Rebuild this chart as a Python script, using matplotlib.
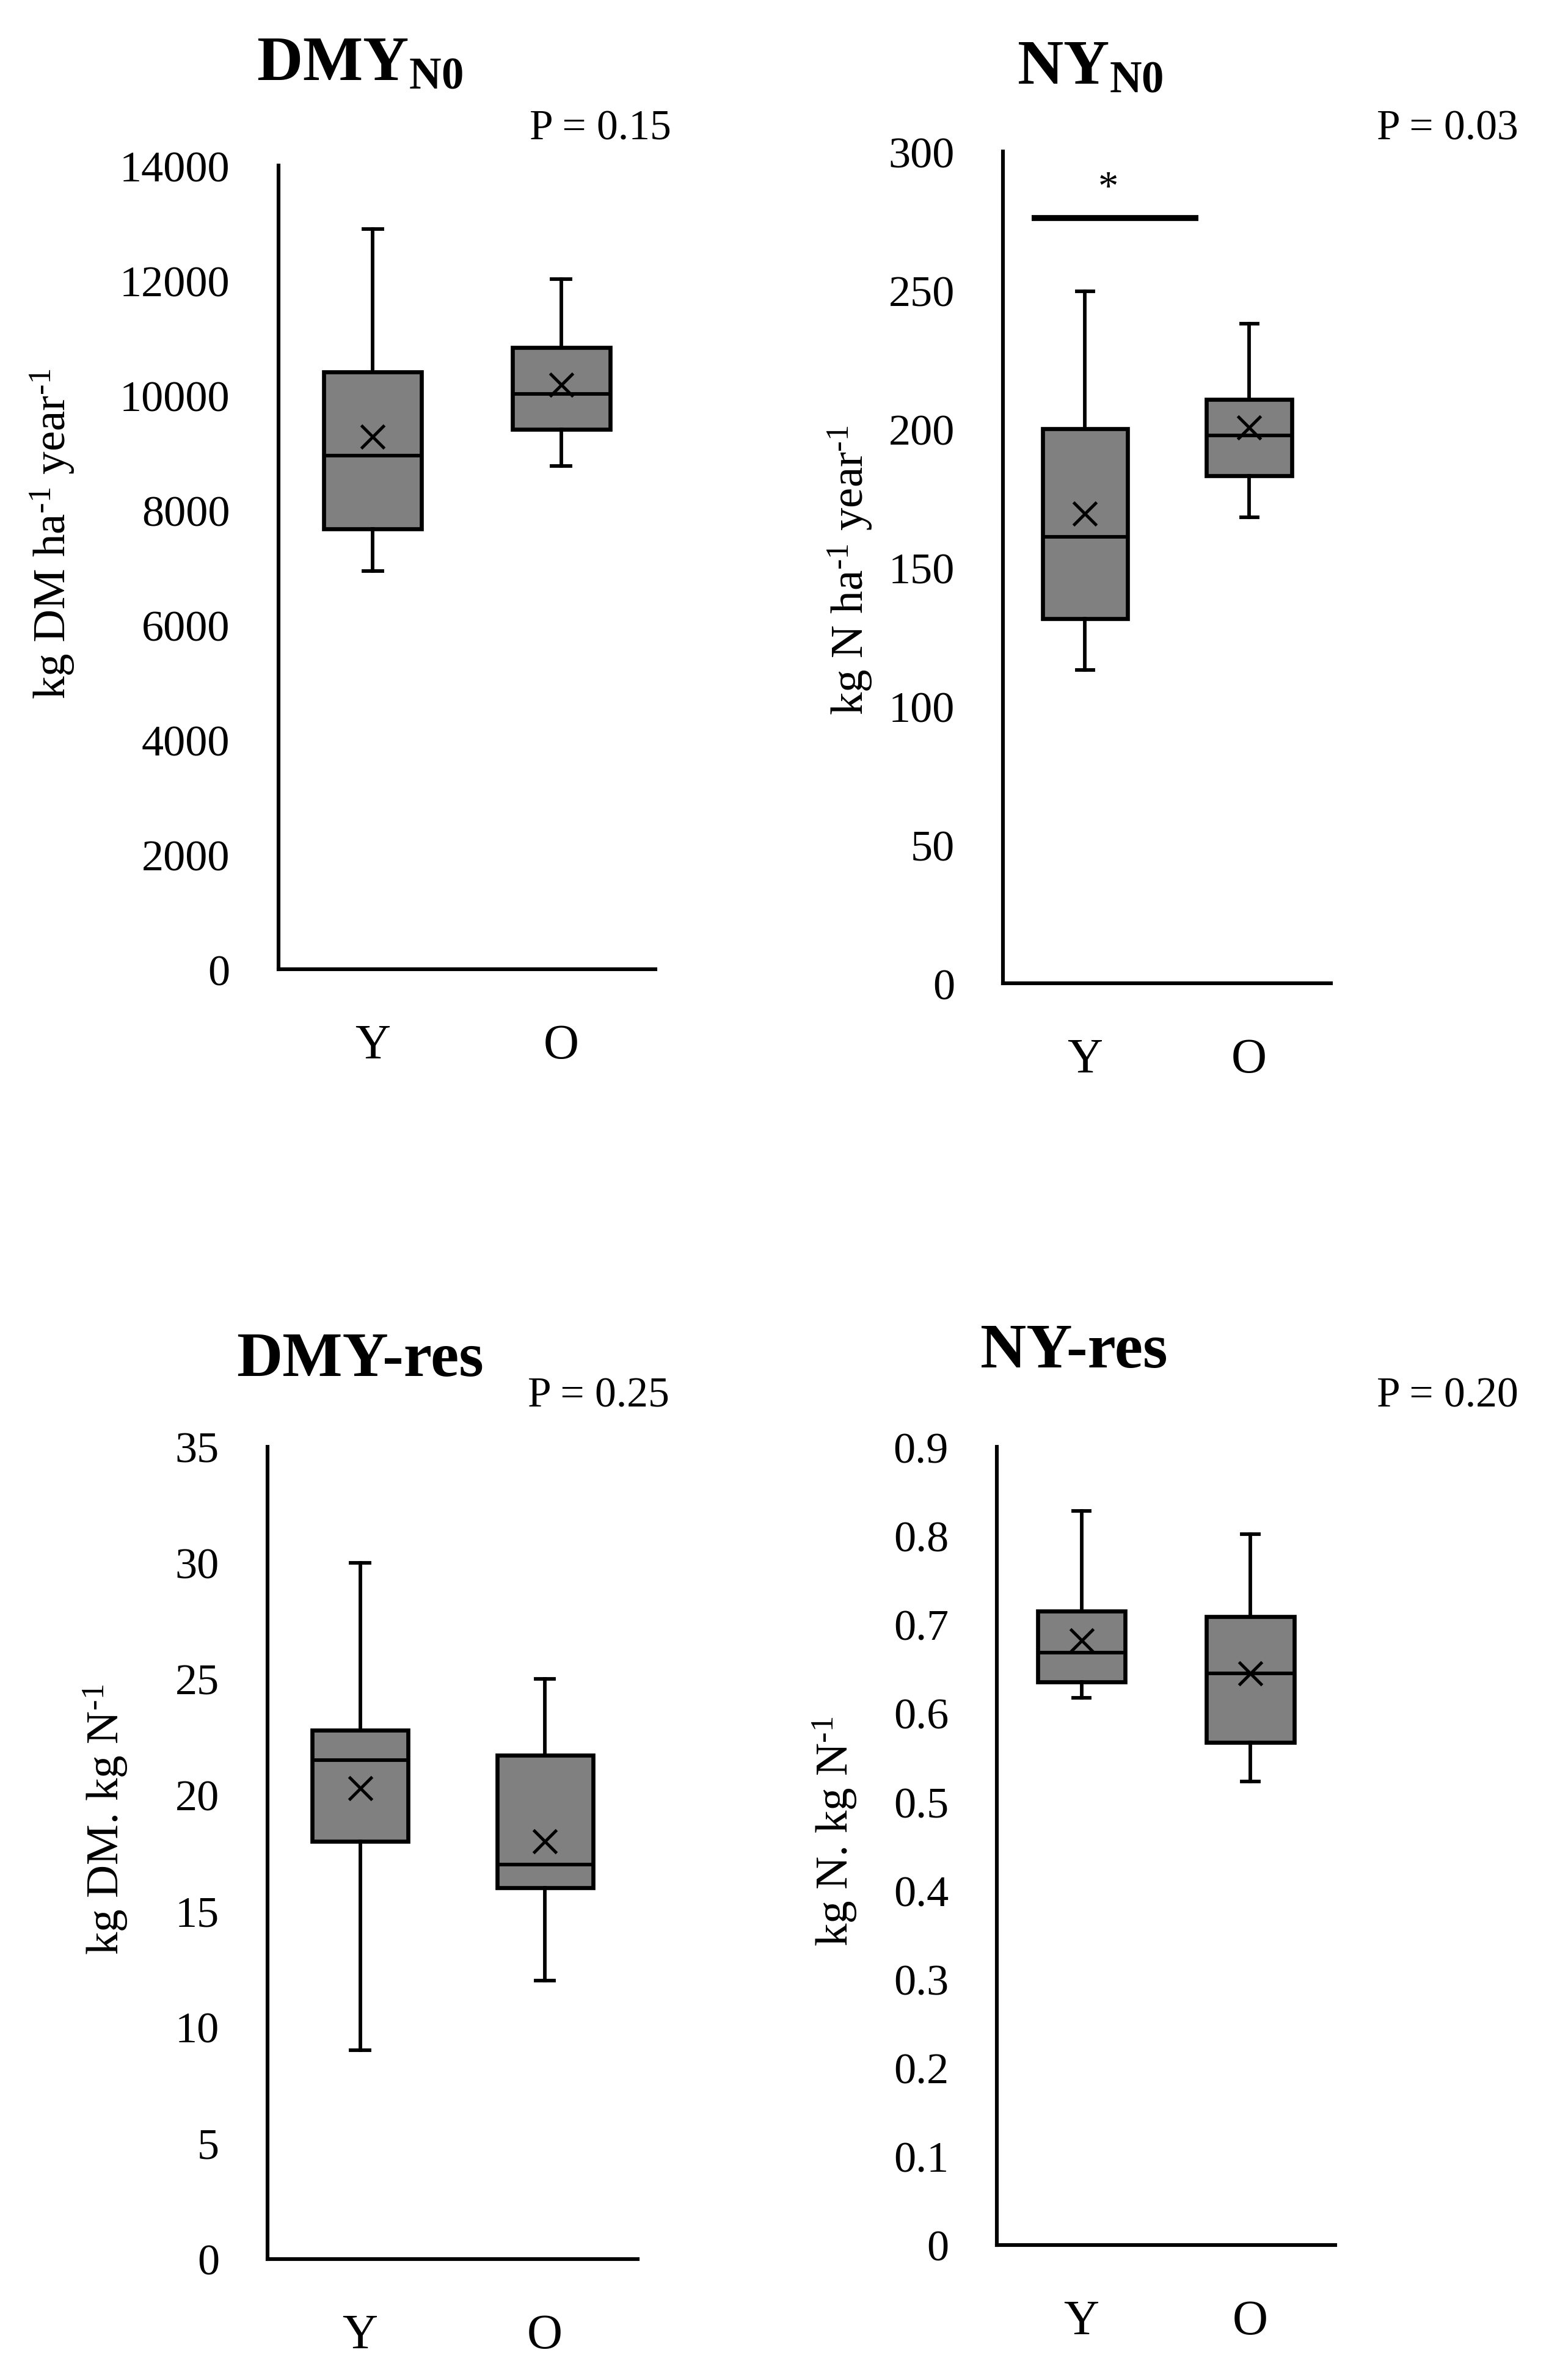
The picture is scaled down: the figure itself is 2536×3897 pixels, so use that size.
import matplotlib
matplotlib.use('Agg')
import matplotlib.pyplot as plt

plt.rcParams['font.family'] = ['Liberation Serif', 'DejaVu Serif']
plt.rcParams['mathtext.fontset'] = 'custom'
plt.rcParams['mathtext.rm'] = 'Liberation Serif'
plt.rcParams['mathtext.bf'] = 'Liberation Serif:bold'
plt.rcParams['mathtext.it'] = 'Liberation Serif:italic'

categories = ['Y', 'O']

# DMY_N0
dmy_whislo = [6940, 8770]
dmy_q1 = [7670, 9410]
dmy_med = [8950, 10030]
dmy_mean = [9280, 10190]
dmy_q3 = [10410, 10830]
dmy_whishi = [12900, 12030]
dmy_ticks = [0, 2000, 4000, 6000, 8000, 10000, 12000, 14000]
dmy_ticklabels = ['0', '2000', '4000', '6000', '8000', '10000', '12000', '14000']

# NY_N0
ny_whislo = [113, 168]
ny_q1 = [131.5, 183]
ny_med = [161, 197.5]
ny_mean = [169.5, 200.5]
ny_q3 = [200, 210.5]
ny_whishi = [249.5, 238]
ny_ticks = [0, 50, 100, 150, 200, 250, 300]
ny_ticklabels = ['0', '50', '100', '150', '200', '250', '300']
sig_x = [0.675, 1.69]
sig_y = 276
star_x = 1.14
star_y = 283

# DMY-res
dmyres_whislo = [9.0, 12.0]
dmyres_q1 = [18.0, 16.0]
dmyres_med = [21.5, 17.0]
dmyres_mean = [20.3, 18.0]
dmyres_q3 = [22.8, 21.7]
dmyres_whishi = [30.0, 25.0]
dmyres_ticks = [0, 5, 10, 15, 20, 25, 30, 35]
dmyres_ticklabels = ['0', '5', '10', '15', '20', '25', '30', '35']

# NY-res
nyres_whislo = [0.617, 0.523]
nyres_q1 = [0.635, 0.567]
nyres_med = [0.668, 0.645]
nyres_mean = [0.682, 0.645]
nyres_q3 = [0.715, 0.709]
nyres_whishi = [0.828, 0.802]
nyres_ticks = [0, 0.1, 0.2, 0.3, 0.4, 0.5, 0.6, 0.7, 0.8, 0.9]
nyres_ticklabels = ['0', '0.1', '0.2', '0.3', '0.4', '0.5', '0.6', '0.7', '0.8', '0.9']

p_labels = ['P = 0.15', 'P = 0.03', 'P = 0.25', 'P = 0.20']
titles = [r'$\mathbf{DMY}_{\mathbf{N0}}$', r'$\mathbf{NY}_{\mathbf{N0}}$', 'DMY-res', 'NY-res']
ylabels = [r'kg DM ha$^{\text{-1}}$ year$^{\text{-1}}$',
           r'kg N ha$^{\text{-1}}$ year$^{\text{-1}}$',
           r'kg DM. kg N$^{\text{-1}}$',
           r'kg N. kg N$^{\text{-1}}$']

fig = plt.figure(figsize=(25.36, 38.98), dpi=100)

axes_rects = [
    [0.1797, 0.5925, 0.2435, 0.3376],
    [0.6475, 0.5867, 0.2119, 0.3494],
    [0.1728, 0.0508, 0.2387, 0.3412],
    [0.6436, 0.0567, 0.2182, 0.3352],
]

panels = [
    (dmy_whislo, dmy_q1, dmy_med, dmy_mean, dmy_q3, dmy_whishi, dmy_ticks, dmy_ticklabels),
    (ny_whislo, ny_q1, ny_med, ny_mean, ny_q3, ny_whishi, ny_ticks, ny_ticklabels),
    (dmyres_whislo, dmyres_q1, dmyres_med, dmyres_mean, dmyres_q3, dmyres_whishi, dmyres_ticks, dmyres_ticklabels),
    (nyres_whislo, nyres_q1, nyres_med, nyres_mean, nyres_q3, nyres_whishi, nyres_ticks, nyres_ticklabels),
]

AX_LW = 4.4
BOX_LW = 4.8
WH_LW = 4.2
axs = []
for rect, (wlo, q1, med, mean, q3, whi, ticks, tlabels) in zip(axes_rects, panels):
    ax = fig.add_axes(rect)
    stats = []
    for i, cat in enumerate(categories):
        stats.append(dict(label=cat, whislo=wlo[i], q1=q1[i], med=med[i], mean=mean[i],
                          q3=q3[i], whishi=whi[i], fliers=[]))
    ax.bxp(stats, positions=[1, 2], widths=0.52, capwidths=0.1, patch_artist=True,
           showmeans=True, showfliers=False,
           boxprops=dict(facecolor='#808080', edgecolor='black', linewidth=BOX_LW),
           medianprops=dict(color='black', linewidth=WH_LW),
           whiskerprops=dict(color='black', linewidth=WH_LW),
           capprops=dict(color='black', linewidth=WH_LW),
           meanprops=dict(marker='x', markeredgecolor='black', markerfacecolor='black',
                          markersize=27, markeredgewidth=3.6))
    ax.set_xlim(0.5, 2.5)
    ax.set_ylim(ticks[0], ticks[-1])
    ax.set_yticks(ticks)
    ax.set_yticklabels(tlabels)
    ax.set_xticks([1, 2])
    ax.set_xticklabels(categories)
    for s in ['top', 'right']:
        ax.spines[s].set_visible(False)
    for s in ['left', 'bottom']:
        ax.spines[s].set_linewidth(AX_LW)
    ax.tick_params(axis='y', length=0, pad=57, labelsize=52)
    ax.tick_params(axis='x', length=0, pad=64, labelsize=58)
    ax.patch.set_visible(False)
    axs.append(ax)

# significance bar on NY_N0
axs[1].plot(sig_x, [sig_y, sig_y], color='black', linewidth=7, solid_capstyle='butt')
axs[1].text(star_x, star_y, '*', ha='center', va='baseline', fontsize=48)

# titles
title_pos = [(0.2324, 0.9663), (0.7037, 0.9648), (0.2324, 0.4219), (0.6934, 0.4257)]
for t, (x, y) in zip(titles, title_pos):
    fig.text(x, y, t, ha='center', va='baseline', fontsize=75, fontweight='bold')

# P values
p_pos = [(0.3418, 0.9414), (0.8887, 0.9414), (0.3408, 0.4091), (0.8887, 0.4091)]
for t, (x, y) in zip(p_labels, p_pos):
    fig.text(x, y, t, ha='left', va='baseline', fontsize=50)

# y labels
yl_pos = [(0.0342, 0.7757), (0.5488, 0.7605), (0.0684, 0.2357), (0.5391, 0.2306)]
for t, (x, y) in zip(ylabels, yl_pos):
    fig.text(x, y, t, ha='center', va='center', rotation=90, fontsize=54)

fig.savefig('out.png', dpi=100, facecolor='white')
